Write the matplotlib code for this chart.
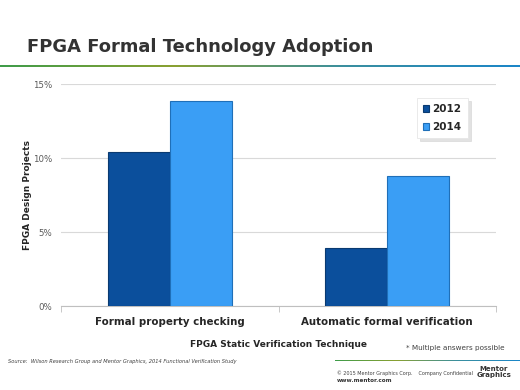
import matplotlib
matplotlib.use("Agg")
import matplotlib.pyplot as plt
import numpy as np
from matplotlib.colors import LinearSegmentedColormap

# data
categories = ['Formal property checking', 'Automatic formal verification']
years = ['2012', '2014']
vals_2012 = [10.4, 3.95]
vals_2014 = [13.87, 8.8]
yticks = [0, 5, 10, 15]

dark_blue = '#0b4f9c'
light_blue = '#3a9ef5'
edge_blue = '#0a3a70'

fig = plt.figure(figsize=(5.2, 3.9), dpi=100)
fig.patch.set_facecolor('white')

# title + gradient rule
fig.text(27/520, 1 - 47/390, 'FPGA Formal Technology Adoption', fontsize=12.9,
         fontweight='bold', color='#333333', va='center', ha='left')
grad = LinearSegmentedColormap.from_list('g', ['#3f9c4a', '#8aa132', '#3a8fa0', '#1b86c8'])
gax = fig.add_axes([0, 1 - 67/390, 1, 2/390])
gax.imshow(np.linspace(0, 1, 256).reshape(1, -1), aspect='auto', cmap=grad)
gax.axis('off')

ax = fig.add_axes([61/520, 1 - 306/390, 435/520, 222/390])
x = np.arange(len(categories))
w = 0.286
ax.bar(x - w/2, vals_2012, w, color=dark_blue, edgecolor=edge_blue, linewidth=0.8,
       label=years[0], zorder=3)
ax.bar(x + w/2, vals_2014, w, color=light_blue, edgecolor='#1f6fb8', linewidth=0.8,
       label=years[1], zorder=3)

ax.set_xlim(-0.5, 1.5)
ax.set_ylim(0, 15)
ax.set_yticks(yticks)
ax.set_yticklabels([f'{t}%' for t in yticks], fontsize=6.2, color='#595959')
ax.yaxis.grid(True, color='#d9d9d9', linewidth=0.8, zorder=0)
ax.set_axisbelow(True)
ax.tick_params(axis='y', length=0, pad=6.5)
for s in ['top', 'right', 'left']:
    ax.spines[s].set_visible(False)
ax.spines['bottom'].set_color('#bfbfbf')
ax.set_xticks(x)
ax.set_xticklabels(categories, fontsize=7.4, fontweight='bold', color='#262626')
ax.set_xticks([-0.5, 0.5, 1.5], minor=True)
ax.tick_params(axis='x', which='major', length=0, pad=8)
ax.tick_params(axis='x', which='minor', length=4, color='#bfbfbf')
ax.set_xlabel('FPGA Static Verification Technique', fontsize=6.5, fontweight='bold',
              color='#262626', labelpad=9.5)
ax.set_ylabel('FPGA Design Projects', fontsize=6.45, fontweight='bold', color='#262626')
ax.yaxis.set_label_coords(-0.066, 0.5)

leg = ax.legend(loc='upper left', bbox_to_anchor=(0.806, 0.96),
                prop={'weight': 'bold', 'size': 7.5}, handlelength=0.6, handleheight=0.6,
                handletextpad=0.3, labelspacing=0.75, frameon=True, fancybox=False,
                shadow={'color': '#cfcfcf', 'alpha': 0.6}, borderpad=0.6)
leg.get_frame().set_edgecolor('#e6e6e6')
leg.get_frame().set_linewidth(0.6)
for t in leg.get_texts():
    t.set_color('#262626')

# footer
fig.text(8/520, 1 - 362/390,
         'Source:  Wilson Research Group and Mentor Graphics, 2014 Functional Verification Study',
         fontsize=3.7, style='italic', color='#404040', va='center')
fig.text(505/520, 1 - 348/390, '* Multiple answers possible', fontsize=5.2,
         color='#404040', ha='right', va='center')
gax2 = fig.add_axes([335/520, 1 - 361/390, 185/520, 1.2/390])
gax2.imshow(np.linspace(0, 1, 256).reshape(1, -1), aspect='auto', cmap=grad)
gax2.axis('off')
fig.text(337/520, 1 - 373/390, '\u00a9 2015 Mentor Graphics Corp.    Company Confidential',
         fontsize=3.5, color='#404040', va='center')
fig.text(337/520, 1 - 380/390, 'www.mentor.com', fontsize=4.1, fontweight='bold',
         color='#333333', va='center')
fig.text(494/520, 1 - 372/390, 'Mentor', fontsize=5, fontweight='bold', color='#333333',
         ha='center', va='bottom')
fig.text(494/520, 1 - 372.5/390, 'Graphics', fontsize=5, fontweight='bold', color='#333333',
         ha='center', va='top')

fig.savefig('out.png', dpi=100)
